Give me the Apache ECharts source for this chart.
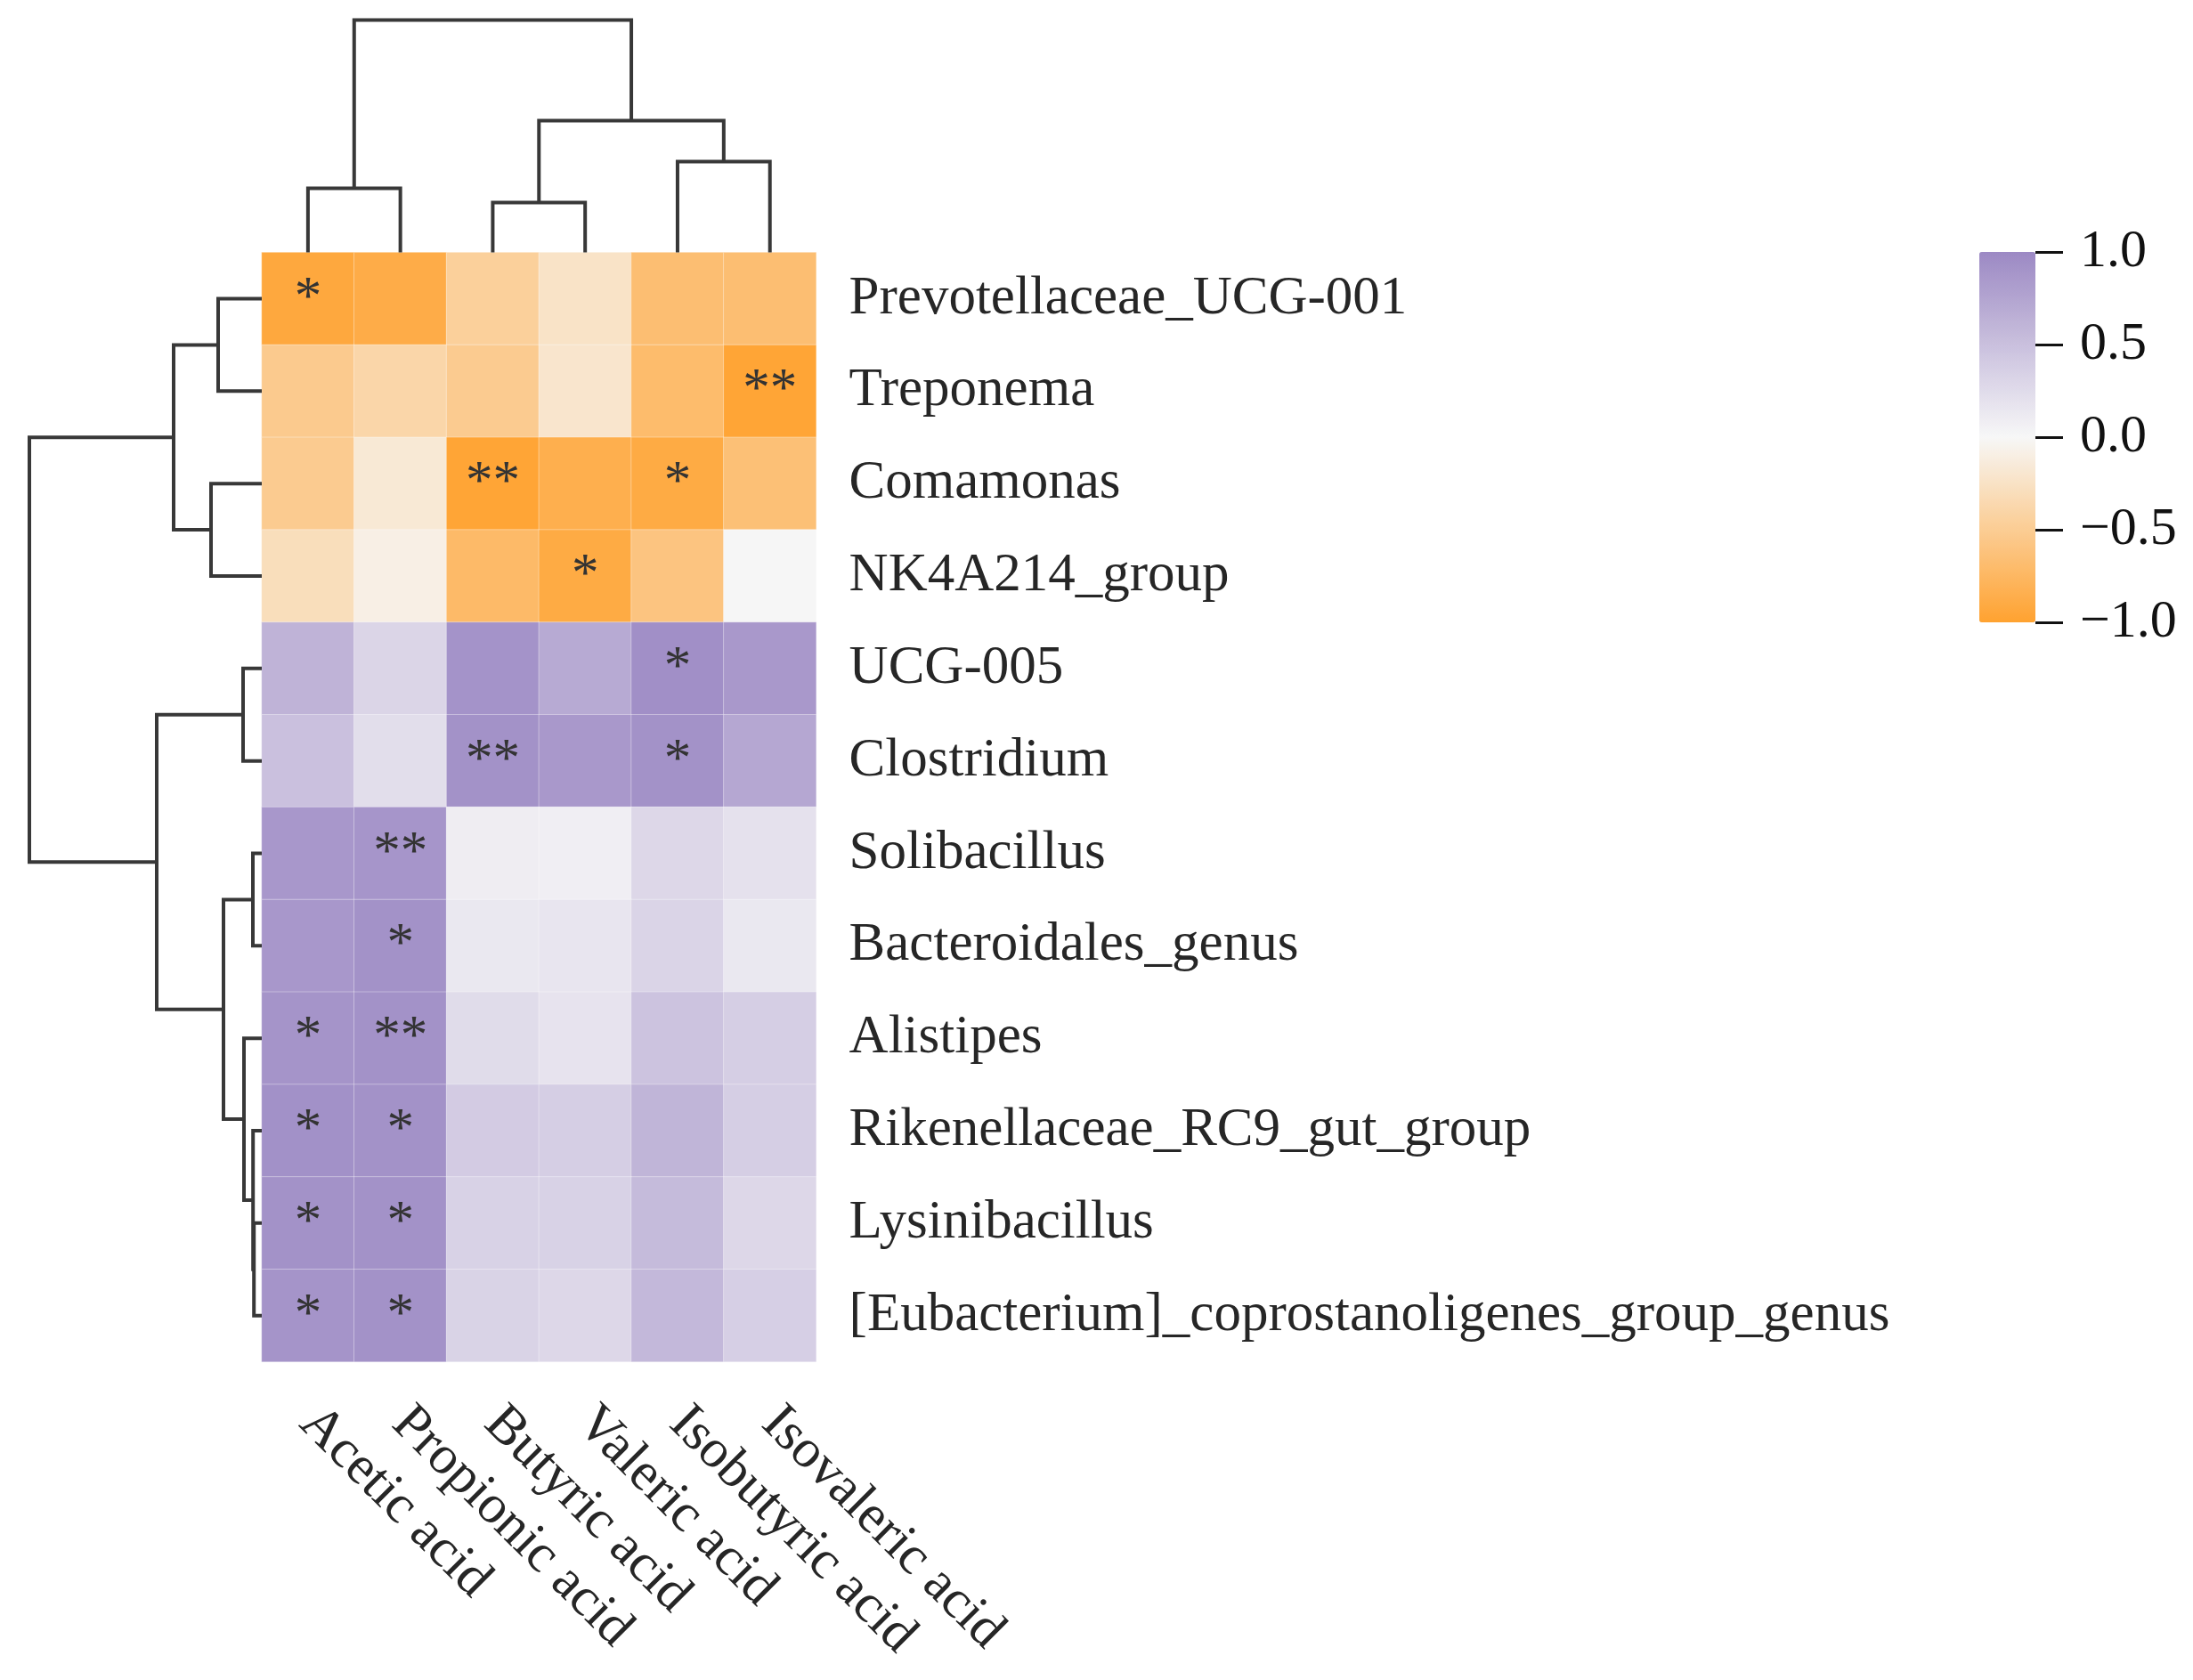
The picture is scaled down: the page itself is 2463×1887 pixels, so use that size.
<!DOCTYPE html>
<html>
<head>
<meta charset="utf-8">
<script src="https://cdn.jsdelivr.net/npm/echarts@6/dist/echarts.min.js"></script>
<style>
html,body{margin:0;padding:0;background:#fff;}
#chart{width:2463px;height:1887px;}
</style>
</head>
<body>
<div id="chart"></div>
<script>
// ---- data ----
const colNames = ['Acetic acid','Propionic acid','Butyric acid','Valeric acid','Isobutyric acid','Isovaleric acid'];
const rowNames = ['Prevotellaceae_UCG-001','Treponema','Comamonas','NK4A214_group','UCG-005','Clostridium',
  'Solibacillus','Bacteroidales_genus','Alistipes','Rikenellaceae_RC9_gut_group','Lysinibacillus',
  '[Eubacterium]_coprostanoligenes_group_genus'];
// correlation (rows x columns)
const corrValues = [
  [-0.93,-0.88,-0.46,-0.24,-0.67,-0.67],
  [-0.53,-0.39,-0.52,-0.21,-0.70,-0.97],
  [-0.52,-0.17,-0.97,-0.85,-0.90,-0.65],
  [-0.30,-0.09,-0.72,-0.90,-0.60, 0.01],
  [ 0.62, 0.31, 0.91, 0.70, 0.95, 0.86],
  [ 0.50, 0.23, 0.92, 0.86, 0.92, 0.73],
  [ 0.87, 0.89, 0.09, 0.08, 0.29, 0.20],
  [ 0.87, 0.92, 0.14, 0.16, 0.32, 0.14],
  [ 0.90, 0.92, 0.25, 0.18, 0.47, 0.37],
  [ 0.93, 0.92, 0.40, 0.37, 0.60, 0.37],
  [ 0.92, 0.92, 0.34, 0.34, 0.55, 0.29],
  [ 0.90, 0.92, 0.33, 0.29, 0.57, 0.36]
];
const sigMarks = [
  ['*','','','','',''],
  ['','','','','','**'],
  ['','','**','','*',''],
  ['','','','*','',''],
  ['','','','','*',''],
  ['','','**','','*',''],
  ['','**','','','',''],
  ['','*','','','',''],
  ['*','**','','','',''],
  ['*','*','','','',''],
  ['*','*','','','',''],
  ['*','*','','','','']
];
// hierarchical clustering linkage: [childA, childB, mergeHeight]; new nodes numbered after leaves
const colLinkage = [
  [2,3,0.56],
  [0,1,0.72],
  [4,5,1.02],
  [6,8,1.48],
  [7,9,2.61]
];
const rowLinkage = [
  [10,11,0.088],
  [9,12,0.098],
  [6,7,0.10],
  [8,13,0.20],
  [4,5,0.21],
  [14,15,0.43],
  [0,1,0.49],
  [2,3,0.57],
  [18,19,0.99],
  [16,17,1.18],
  [20,21,2.61]
];

// ---- build ----
function buildLinks(linkage, nLeaves){
  const pos = [], hgt = [];
  for (let i=0;i<nLeaves;i++){ pos.push(i+0.5); hgt.push(0); }
  const links = [];
  linkage.forEach(([a,b,h]) => {
    links.push([pos[a], hgt[a], pos[b], hgt[b], h]);
    pos.push((pos[a]+pos[b])/2); hgt.push(h);
  });
  return links;
}
const colLinks = buildLinks(colLinkage, colNames.length);
const rowLinks = buildLinks(rowLinkage, rowNames.length);
const rootH = Math.max(colLinkage[colLinkage.length-1][2], rowLinkage[rowLinkage.length-1][2]);

const heatData = [];
corrValues.forEach((row, r) => row.forEach((v, c) => heatData.push([c, r, v])));

const FONT = "'Liberation Serif','Times New Roman',serif";
const TXT = '#262626';
const LINE = '#383838';

const HM_L = 294, HM_T = 283.6, HM_W = 622.6, HM_H = 1246;
const DEND = 261;

const chart = echarts.init(document.getElementById('chart'), null, {renderer:'canvas'});
const option = {
  backgroundColor: '#fff',
  animation: false,
  grid: [
    {left: HM_L, top: HM_T, width: HM_W, height: HM_H},
    {left: HM_L, top: HM_T - DEND, width: HM_W, height: DEND},
    {left: HM_L - DEND, top: HM_T, width: DEND, height: HM_H},
    {left: 2223, top: 283, width: 63, height: 416}
  ],
  xAxis: [
    {type:'category', gridIndex:0, data: colNames, position:'bottom',
     axisLine:{show:false}, axisTick:{show:false}, splitLine:{show:false},
     axisLabel:{rotate:-45, margin:60, fontSize:61, fontFamily:FONT, color:TXT, interval:0}},
    {type:'value', gridIndex:1, min:0, max:colNames.length, show:false},
    {type:'value', gridIndex:2, min:0, max:rootH, inverse:true, show:false},
    {type:'value', gridIndex:3, min:1, max:2, show:false}
  ],
  yAxis: [
    {type:'category', gridIndex:0, data: rowNames, inverse:true, position:'right',
     axisLine:{show:false}, axisTick:{show:false}, splitLine:{show:false},
     axisLabel:{margin:37, fontSize:61, fontFamily:FONT, color:TXT, interval:0}},
    {type:'value', gridIndex:1, min:0, max:rootH, show:false},
    {type:'value', gridIndex:2, min:0, max:rowNames.length, inverse:true, show:false},
    {type:'value', gridIndex:3, min:-1, max:1, interval:0.5, position:'right',
     axisLine:{show:false, onZero:false}, splitLine:{show:false},
     axisTick:{show:true, inside:false, length:31, lineStyle:{color:'#111', width:3}},
     axisLabel:{margin:50, fontSize:60, fontFamily:FONT, color:'#111',
       formatter: v => (v < 0 ? '\u2212' : '') + Math.abs(v).toFixed(1)}}
  ],
  visualMap: {
    type:'continuous', min:-1, max:1, seriesIndex:0, dimension:2,
    left:2223, top:283, itemWidth:63, itemHeight:416, padding:0,
    calculable:false, hoverLink:false, text:null, showLabel:false,
    inRange:{color:['#FFA230','#F7F7F7','#9C89C4']}
  },
  series: [
    {type:'heatmap', xAxisIndex:0, yAxisIndex:0, data: heatData,
     itemStyle:{borderColor:'rgba(255,255,255,0.35)', borderWidth:1},
     label:{show:true, fontSize:61, fontFamily:FONT, color:'#333',
       formatter: p => sigMarks[p.data[1]][p.data[0]]},
     emphasis:{disabled:true}},
    {type:'custom', xAxisIndex:1, yAxisIndex:1, data: colLinks, clip:false, silent:true,
     renderItem: (params, api) => {
       const xa=api.value(0), ha=api.value(1), xb=api.value(2), hb=api.value(3), h=api.value(4);
       return {type:'polyline', shape:{points:[api.coord([xa,ha]), api.coord([xa,h]), api.coord([xb,h]), api.coord([xb,hb])]},
         style:{stroke:LINE, lineWidth:4, fill:null, lineJoin:'miter'}};
     }},
    {type:'custom', xAxisIndex:2, yAxisIndex:2, data: rowLinks, clip:false, silent:true,
     encode:{x:1, y:0},
     renderItem: (params, api) => {
       const ya=api.value(0), ha=api.value(1), yb=api.value(2), hb=api.value(3), h=api.value(4);
       return {type:'polyline', shape:{points:[api.coord([ha,ya]), api.coord([h,ya]), api.coord([h,yb]), api.coord([hb,yb])]},
         style:{stroke:LINE, lineWidth:4, fill:null, lineJoin:'miter'}};
     }}
  ]
};
chart.setOption(option);
</script>
</body>
</html>
